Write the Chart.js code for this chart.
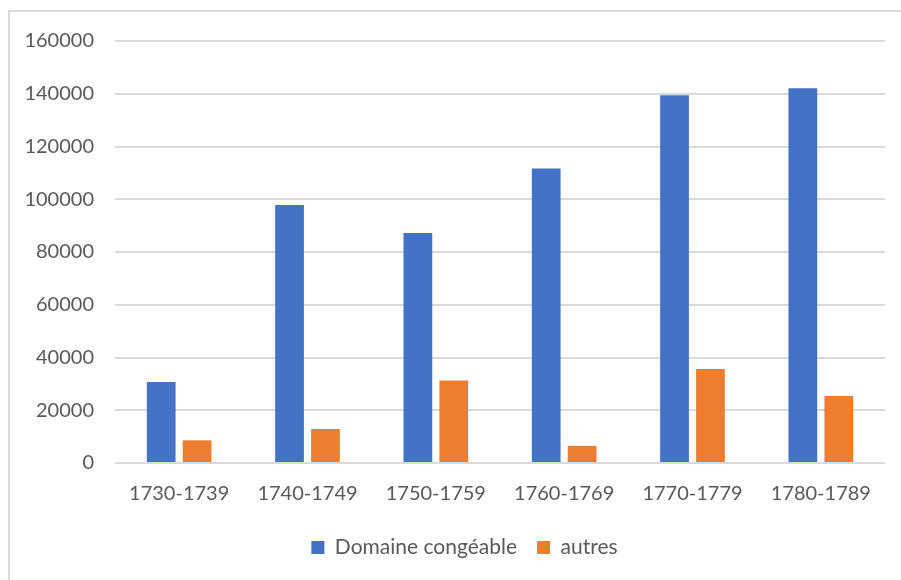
<!DOCTYPE html>
<html lang="fr">
<head>
    <meta charset="UTF-8">
    <title>Domaine congéable</title>
    <style>
      body { margin: 0; background: #fff; }
      #frame { position: absolute; left: 8px; top: 10px; width: 1000px; height: 700px;
               border-left: 2px solid #d9d9d9; border-top: 2px solid #d9d9d9; }
      #wrap { position: absolute; left: 0; top: 0; width: 901px; height: 580px; }
    </style>
</head>
<body>
<div id="frame"></div>
<div id="wrap"><canvas id="bar_chart"></canvas></div>

<script src="https://cdn.jsdelivr.net/npm/chart.js"></script>
<script>
  // decades on the x axis
  const decades = ['1730-1739', '1740-1749', '1750-1759', '1760-1769', '1770-1779', '1780-1789'];
  // values
  const domaine_congeable = [30700, 97800, 87200, 111700, 139400, 142100];
  const autres = [8600, 12900, 31300, 6500, 35600, 25400];
  const y_ticks = [0, 20000, 40000, 60000, 80000, 100000, 120000, 140000, 160000];

  const grey_text = '#595959';
  const font_family = 'Lato, "Open Sans", sans-serif';

  const bar_chart = document.getElementById('bar_chart');

  // the legend sits a little right of the canvas centre in the original
  const shiftLegend = {
    id: 'shiftLegend',
    afterLayout(chart) {
      chart.legend.left += 22;
      chart.legend.right += 22;
    }
  };

  new Chart(bar_chart, {
    type: 'bar',
    data: {
      labels: decades,
      datasets: [{
        label: 'Domaine congéable',
        data: domaine_congeable,
        backgroundColor: '#4472c4'
      }, {
        label: 'autres',
        data: autres,
        backgroundColor: '#ed7d31'
      }]
    },
    plugins: [shiftLegend],
    options: {
      responsive: true,
      maintainAspectRatio: false,
      animation: false,
      categoryPercentage: 0.56,
      barPercentage: 0.8,
      layout: { padding: { top: 41, right: 16, left: 0, bottom: 12 } },
      plugins: {
        tooltip: { enabled: false },
        legend: {
          position: 'bottom',
          labels: {
            boxWidth: 13,
            boxHeight: 13,
            padding: 20,
            color: grey_text,
            font: { family: font_family, size: 21 }
          }
        }
      },
      scales: {
        x: {
          grid: { display: false },
          border: { display: false },
          ticks: { color: grey_text, padding: 11, maxRotation: 0, font: { family: font_family, size: 20 } }
        },
        y: {
          min: 0,
          max: y_ticks[y_ticks.length - 1],
          afterBuildTicks: function(axis) {
            axis.ticks = y_ticks.map(v => ({ value: v }));
          },
          afterFit: function(axis) { axis.width = 115; },
          grid: { color: '#d9d9d9', lineWidth: 2, drawTicks: false },
          border: { display: false },
          ticks: {
            color: grey_text,
            padding: 21,
            font: { family: font_family, size: 20 },
            callback: function(value) { return String(value); }
          }
        }
      }
    }
  });
</script>
</body>
</html>
